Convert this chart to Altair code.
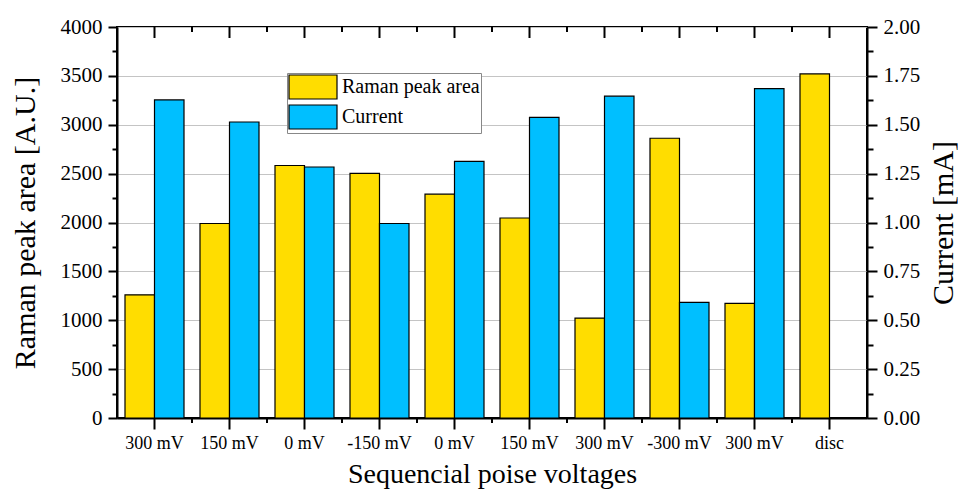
import altair as alt
import pandas as pd

categories = ["300 mV", "150 mV", "0 mV", "-150 mV", "0 mV", "150 mV",
              "300 mV", "-300 mV", "300 mV", "disc"]
raman = [1260, 1990, 2583, 2502, 2290, 2046, 1022, 2862, 1172, 3520]
current = [1.627, 1.514, 1.284, 0.995, 1.313, 1.538, 1.646, 0.591, 1.685, None]
series = ["Raman peak area", "Current"]
colors = ["#FFDD00", "#00BFFF"]
left_ticks = list(range(0, 4001, 250))
right_ticks = [i * 0.125 for i in range(17)]

idx = list(range(len(categories)))
df_r = pd.DataFrame({"idx": idx, "value": raman, "series": series[0]})
df_c = pd.DataFrame({"idx": idx, "value": current, "series": series[1]}).dropna()
df_t = pd.DataFrame({"idx": idx})

FONT = "Liberation Serif"
label_js = "[" + ",".join("'%s'" % c for c in categories) + "]"

x_axis = alt.Axis(
    title="Sequencial poise voltages", labelExpr=label_js + "[datum.value]",
    labelAngle=0, tickSize=11, tickWidth=2, tickColor="black",
    domainColor="black", domainWidth=2, labelFontSize=18, labelFont=FONT,
    labelColor="black", labelPadding=5, titleFont=FONT, titleFontSize=28,
    titleFontWeight="normal", titleColor="black", titlePadding=8, grid=False,
)
x_scale = alt.Scale(paddingInner=0, paddingOuter=0)
X = alt.X("idx:O", scale=x_scale, axis=x_axis)
xoff = alt.XOffset("series:N", scale=alt.Scale(domain=series, paddingInner=0, paddingOuter=0.271))
color = alt.Color(
    "series:N", scale=alt.Scale(domain=series, range=colors),
    legend=alt.Legend(
        title=None, orient="none", legendX=170, legendY=46,
        symbolType="M-1,-1H3V1H-1Z", symbolSize=576,
        symbolStrokeColor="black", symbolStrokeWidth=1.2,
        labelFontSize=20, labelFont=FONT, labelColor="black",
        strokeColor="#888888", fillColor="white", padding=1,
        rowPadding=0, labelOffset=28,
    ),
)

left_axis = alt.Axis(
    orient="left", title="Raman peak area [A.U.]", values=left_ticks,
    labelExpr="datum.value % 500 === 0 ? datum.value : ''",
    tickSize={"condition": {"test": "datum.value % 500 === 0", "value": 9}, "value": 5},
    tickWidth=2, tickColor="black", domainColor="black", domainWidth=2,
    grid=True, gridColor="#C4C4C4", gridWidth=1,
    gridOpacity={"condition": {"test": "datum.value % 500 === 0", "value": 1}, "value": 0},
    labelFontSize=21, labelFont=FONT, labelColor="black", labelPadding=6,
    titleFont=FONT, titleFontSize=30, titleFontWeight="normal", titleColor="black",
    titlePadding=20,
)
right_axis = alt.Axis(
    orient="right", title="Current [mA]", values=right_ticks,
    labelExpr="(datum.value * 4) % 1 === 0 ? format(datum.value, '.2f') : ''",
    tickSize={"condition": {"test": "(datum.value * 4) % 1 === 0", "value": 10}, "value": 6},
    tickWidth=2, tickColor="black", domainColor="black", domainWidth=2, grid=False,
    labelFontSize=21, labelFont=FONT, labelColor="black", labelPadding=6,
    titleFont=FONT, titleFontSize=30, titleFontWeight="normal", titleColor="black",
    titleAngle=270, titlePadding=39,
)

bars_r = alt.Chart(df_r).mark_bar(stroke="black", strokeWidth=1.2).encode(
    x=X, xOffset=xoff, color=color,
    y=alt.Y("value:Q", scale=alt.Scale(domain=[0, 4000], nice=False), axis=left_axis),
)
bars_c = alt.Chart(df_c).mark_bar(stroke="black", strokeWidth=1.2).encode(
    x=X, xOffset=xoff, color=color,
    y=alt.Y("value:Q", scale=alt.Scale(domain=[0, 2], nice=False), axis=right_axis),
)
top_major = alt.Chart(df_t).mark_rule(color="black", strokeWidth=2).encode(
    x=X, y=alt.value(0), y2=alt.value(11))
top_minor = alt.Chart(df_t).transform_filter("datum.idx > 0").mark_rule(
    color="black", strokeWidth=2).encode(
    x=alt.X("idx:O", scale=x_scale, axis=x_axis, bandPosition=0),
    y=alt.value(0), y2=alt.value(5))
bot_minor = alt.Chart(df_t).transform_filter("datum.idx > 0").mark_rule(
    color="black", strokeWidth=2).encode(
    x=alt.X("idx:O", scale=x_scale, axis=x_axis, bandPosition=0),
    y=alt.value(391), y2=alt.value(396))

chart = alt.layer(bars_r, bars_c, top_major, top_minor, bot_minor).resolve_scale(
    y="independent"
).properties(
    width=750, height=391,
    autosize=alt.AutoSizeParams(type="none"),
    padding={"left": 109, "top": 19, "right": 91, "bottom": 72},
    background="white",
).configure_view(stroke="black", strokeWidth=2)

chart.save("out.html", embed_options={"renderer": "svg", "actions": False})
